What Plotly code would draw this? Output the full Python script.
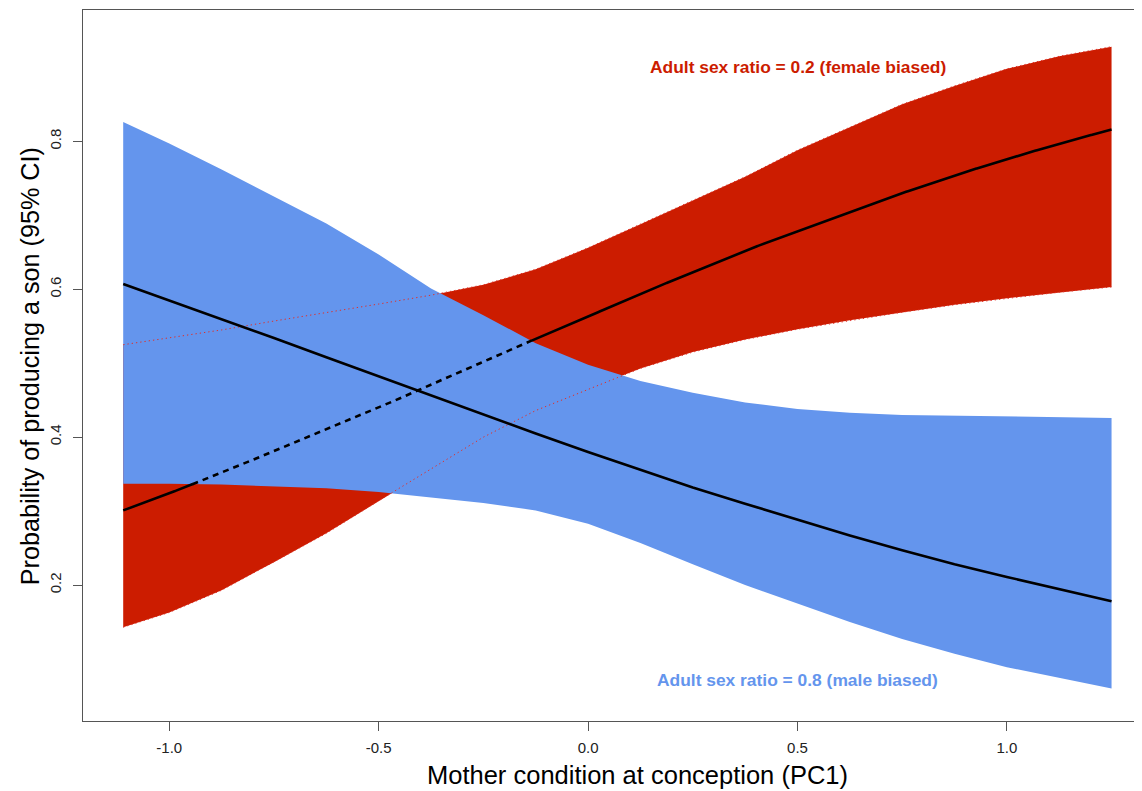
import numpy as np
import plotly.graph_objects as go

# ---- data ----
pc1 = [-1.11, -1.0, -0.875, -0.75, -0.625, -0.5, -0.375, -0.25, -0.125, 0.0,
       0.125, 0.25, 0.375, 0.5, 0.625, 0.75, 0.875, 1.0, 1.125, 1.25]

# Adult sex ratio = 0.2 (female biased)
female_mean = [0.301, 0.324, 0.352, 0.381, 0.410, 0.440, 0.471, 0.502, 0.533, 0.563,
               0.594, 0.623, 0.652, 0.679, 0.705, 0.730, 0.754, 0.776, 0.797, 0.816]
female_upper = [0.525, 0.534, 0.545, 0.557, 0.568, 0.580, 0.592, 0.606, 0.627, 0.656,
                0.688, 0.720, 0.752, 0.788, 0.819, 0.850, 0.875, 0.898, 0.915, 0.928]
female_lower = [0.143, 0.163, 0.193, 0.231, 0.270, 0.314, 0.357, 0.400, 0.436, 0.465,
                0.493, 0.515, 0.532, 0.546, 0.558, 0.569, 0.579, 0.588, 0.596, 0.603]

# Adult sex ratio = 0.8 (male biased)
male_mean = [0.607, 0.585, 0.559, 0.534, 0.508, 0.482, 0.456, 0.430, 0.405, 0.380,
             0.356, 0.332, 0.310, 0.288, 0.267, 0.247, 0.228, 0.211, 0.194, 0.178]
male_upper = [0.826, 0.797, 0.762, 0.726, 0.689, 0.647, 0.601, 0.565, 0.527, 0.498,
              0.476, 0.460, 0.447, 0.438, 0.433, 0.430, 0.429, 0.428, 0.427, 0.426]
male_lower = [0.337, 0.337, 0.336, 0.334, 0.331, 0.326, 0.319, 0.311, 0.301, 0.283,
              0.257, 0.228, 0.200, 0.175, 0.150, 0.127, 0.107, 0.089, 0.074, 0.060]

x_ticks = [-1.0, -0.5, 0.0, 0.5, 1.0]
x_ticklabels = ["-1.0", "-0.5", "0.0", "0.5", "1.0"]
y_ticks = [0.2, 0.4, 0.6, 0.8]
y_ticklabels = ["0.2", "0.4", "0.6", "0.8"]

label_female = "Adult sex ratio = 0.2 (female biased)"
label_male = "Adult sex ratio = 0.8 (male biased)"
x_title = "Mother condition at conception (PC1)"
y_title = "Probability of producing a son (95% CI)"

# ---- styles ----
RED = "#CC1C00"
BLUE = "#6495ED"
FONT = "Liberation Sans, Arial, sans-serif"

fig = go.Figure()

# red CI band
fig.add_trace(go.Scatter(
    x=pc1 + pc1[::-1], y=female_upper + female_lower[::-1],
    fill="toself", fillcolor=RED, line=dict(width=0), mode="lines",
    hoverinfo="skip", showlegend=False))

# blue CI band on top
fig.add_trace(go.Scatter(
    x=pc1 + pc1[::-1], y=male_upper + male_lower[::-1],
    fill="toself", fillcolor=BLUE, line=dict(width=0), mode="lines",
    hoverinfo="skip", showlegend=False))

# red CI edges dotted (visible where covered by blue)
for edge in (female_upper, female_lower):
    fig.add_trace(go.Scatter(
        x=pc1, y=edge, mode="lines",
        line=dict(color="#E0302A", width=1, dash="1.3px,3px"),
        hoverinfo="skip", showlegend=False))

# blue mean (solid)
fig.add_trace(go.Scatter(
    x=pc1, y=male_mean, mode="lines",
    line=dict(color="black", width=2.6),
    hoverinfo="skip", showlegend=False))

# red mean: dashed where inside blue band, solid elsewhere
xs = np.linspace(pc1[0], pc1[-1], 2400)
rm = np.interp(xs, pc1, female_mean)
bu = np.interp(xs, pc1, male_upper)
bl = np.interp(xs, pc1, male_lower)
inside = (rm > bl) & (rm < bu)
inside_ext = inside.copy()
inside_ext[1:] |= inside[:-1]
inside_ext[:-1] |= inside[1:]
outside = ~inside
outside_ext = outside.copy()
outside_ext[1:] |= outside[:-1]
outside_ext[:-1] |= outside[1:]

y_dash = np.where(inside_ext, rm, np.nan)
y_solid = np.where(outside_ext, rm, np.nan)

fig.add_trace(go.Scatter(
    x=xs, y=y_dash, mode="lines", connectgaps=False,
    line=dict(color="black", width=2.6, dash="6px,5px"),
    hoverinfo="skip", showlegend=False))
fig.add_trace(go.Scatter(
    x=xs, y=y_solid, mode="lines", connectgaps=False,
    line=dict(color="black", width=2.6),
    hoverinfo="skip", showlegend=False))

# in-plot labels
fig.add_annotation(x=0.501, y=0.9005, xref="x", yref="y", text=f"<b>{label_female}</b>",
                   showarrow=False, xanchor="center", yanchor="middle",
                   font=dict(family=FONT, size=17.4, color=RED))
fig.add_annotation(x=0.499, y=0.0716, xref="x", yref="y", text=f"<b>{label_male}</b>",
                   showarrow=False, xanchor="center", yanchor="middle",
                   font=dict(family=FONT, size=17.4, color=BLUE))

# axis titles
fig.add_annotation(x=0.524, y=-0.076, xref="paper", yref="paper", text=x_title,
                   showarrow=False, xanchor="center", yanchor="middle",
                   font=dict(family=FONT, size=25.5, color="black"))
fig.add_annotation(x=-0.05, y=0.499, xref="paper", yref="paper", text=y_title,
                   showarrow=False, xanchor="center", yanchor="middle", textangle=-90,
                   font=dict(family=FONT, size=25.2, color="black"))

AX = "#555555"
fig.update_layout(
    width=1134, height=783,
    margin=dict(l=75, r=0, t=2, b=70, pad=0),
    plot_bgcolor="white", paper_bgcolor="white",
    showlegend=False,
    font=dict(family=FONT, color="#222222"),
    xaxis=dict(range=[-1.206, 1.3227], tickvals=x_ticks, ticktext=x_ticklabels,
               ticks="outside", ticklen=9, tickcolor=AX, tickwidth=1,
               showline=True, linecolor=AX, linewidth=1, mirror=True,
               showgrid=False, zeroline=False, automargin=False,
               tickfont=dict(family=FONT, size=15, color="#222222"),
               ticklabelstandoff=4),
    yaxis=dict(range=[0.0162, 0.9776], tickvals=y_ticks, ticktext=y_ticklabels,
               ticks="outside", ticklen=9, tickcolor=AX, tickwidth=1,
               showline=True, linecolor=AX, linewidth=1, mirror=False,
               showgrid=False, zeroline=False, automargin=False, tickangle=-90,
               tickfont=dict(family=FONT, size=15, color="#222222"),
               ticklabelstandoff=6),
)

fig.write_html("out.html")
